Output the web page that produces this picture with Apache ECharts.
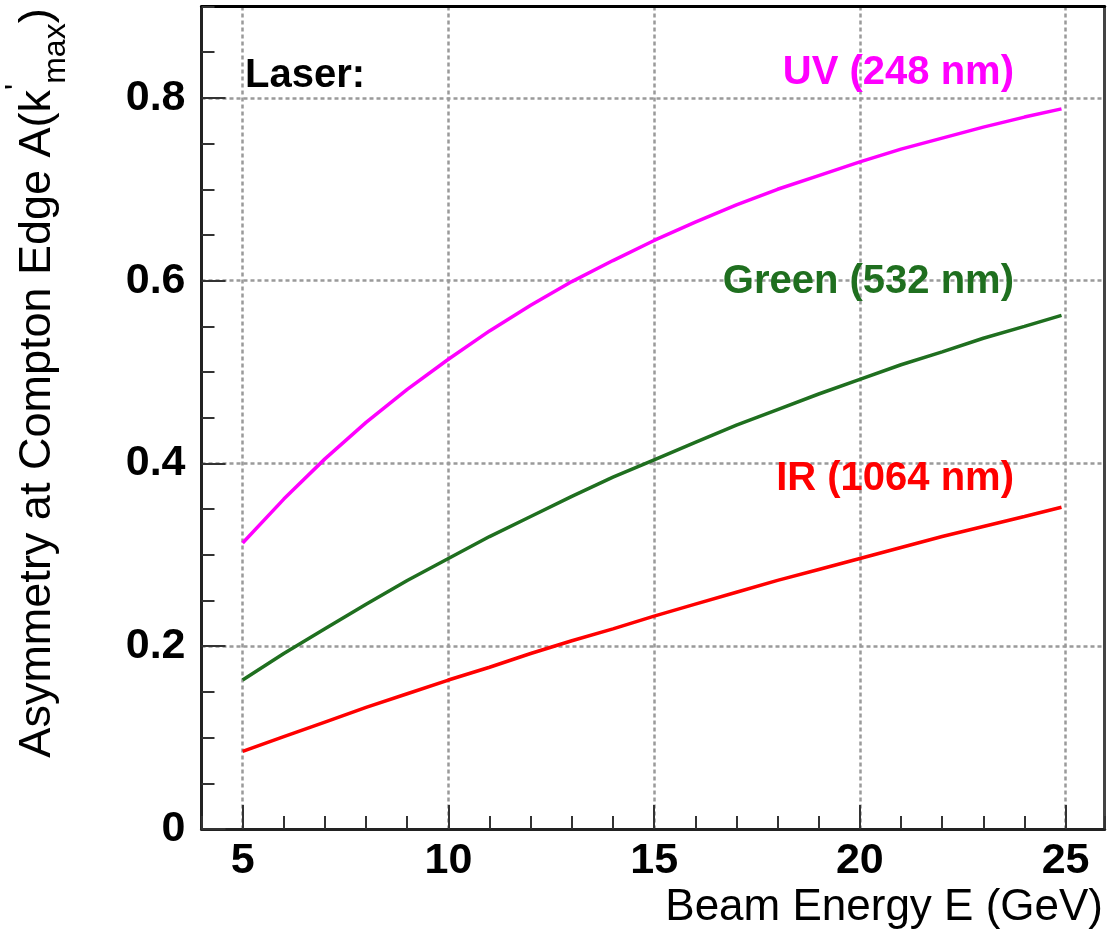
<!DOCTYPE html>
<html>
<head>
<meta charset="utf-8">
<script src="https://cdn.jsdelivr.net/npm/echarts@6/dist/echarts.min.js"></script>
<style>
  html, body { margin: 0; padding: 0; background: #ffffff; }
  #chart { width: 1111px; height: 935px; }
</style>
</head>
<body>
<div id="chart"></div>
<script>
// Beam energy (GeV) at which each curve is sampled
const beamEnergy = [5, 6, 7, 8, 9, 10, 11, 12, 13, 14, 15, 16, 17, 18, 19, 20, 21, 22, 23, 24, 24.9];

// Asymmetry at the Compton edge for each laser wavelength
const asymUV = [0.313, 0.361, 0.405, 0.445, 0.481, 0.514, 0.545, 0.573, 0.599, 0.622, 0.644,
                0.664, 0.683, 0.700, 0.715, 0.730, 0.744, 0.756, 0.768, 0.779, 0.788];
const asymGreen = [0.163, 0.192, 0.219, 0.246, 0.272, 0.296, 0.320, 0.342, 0.364, 0.385, 0.404,
                   0.423, 0.442, 0.459, 0.476, 0.492, 0.508, 0.522, 0.537, 0.550, 0.562];
const asymIR = [0.085, 0.101, 0.117, 0.133, 0.148, 0.163, 0.177, 0.192, 0.206, 0.219, 0.233,
                0.246, 0.259, 0.272, 0.284, 0.296, 0.308, 0.320, 0.331, 0.342, 0.352];

const laserNames = ['UV (248 nm)', 'Green (532 nm)', 'IR (1064 nm)'];
const laserColors = ['#ff00ff', '#1f6f1f', '#ff0000'];

const xRange = [4, 25.95];
const yRange = [0, 0.9];

const FONT = "'Liberation Sans', Arial, Helvetica, sans-serif";

function pairs(xs, ys) {
  return xs.map((x, i) => [x, ys[i]]);
}

const gridLine = { show: true, showMinLine: false, showMaxLine: false,
  lineStyle: { color: '#9a9a9a', width: 2.5, type: [4, 3] } };
const hidden = { show: false };

const chart = echarts.init(document.getElementById('chart'), null, { renderer: 'canvas' });

chart.setOption({
  animation: false,
  backgroundColor: '#ffffff',
  grid: { left: 201.5, right: 6.3, top: 6.5, bottom: 106, containLabel: false, outerBoundsMode: 'none' },
  xAxis: [
    { // major ticks, labels and grid
      type: 'value', min: xRange[0], max: xRange[1], position: 'bottom',
      axisLine: { show: true, onZero: false, lineStyle: { color: '#222', width: 3 } },
      axisTick: { show: true, inside: true, length: 24, lineStyle: { color: '#333', width: 2 } },
      axisLabel: { show: true, margin: 11, color: '#000', fontSize: 43, fontWeight: 'bold',
                   fontFamily: FONT, showMinLabel: false, showMaxLabel: false },
      splitLine: gridLine
    },
    { // minor ticks every 1 GeV
      type: 'value', min: xRange[0], max: xRange[1], interval: 1, position: 'bottom',
      axisLine: hidden, axisLabel: hidden, splitLine: hidden,
      axisTick: { show: true, inside: true, length: 13, lineStyle: { color: '#333', width: 2 } }
    },
    { // top frame edge
      type: 'value', min: xRange[0], max: xRange[1], position: 'top',
      axisLine: { show: true, onZero: false, lineStyle: { color: '#000', width: 3 } },
      axisTick: hidden, axisLabel: hidden, splitLine: hidden
    }
  ],
  yAxis: [
    {
      type: 'value', min: yRange[0], max: yRange[1], interval: 0.2, position: 'left',
      axisLine: { show: true, onZero: false, lineStyle: { color: '#222', width: 3 } },
      axisTick: { show: true, inside: true, length: 24, lineStyle: { color: '#333', width: 2 } },
      axisLabel: { show: true, margin: 16, color: '#000', fontSize: 43, fontWeight: 'bold',
                   fontFamily: FONT, showMaxLabel: false },
      splitLine: gridLine
    },
    { // minor ticks every 0.05
      type: 'value', min: yRange[0], max: yRange[1], interval: 0.05, position: 'left',
      axisLine: hidden, axisLabel: hidden, splitLine: hidden,
      axisTick: { show: true, inside: true, length: 13, lineStyle: { color: '#333', width: 2 } }
    },
    { // right frame edge
      type: 'value', min: yRange[0], max: yRange[1], position: 'right',
      axisLine: { show: true, onZero: false, lineStyle: { color: '#444', width: 3 } },
      axisTick: hidden, axisLabel: hidden, splitLine: hidden
    }
  ],
  series: [asymUV, asymGreen, asymIR].map((vals, i) => ({
    name: laserNames[i],
    type: 'line',
    xAxisIndex: 0,
    yAxisIndex: 0,
    data: pairs(beamEnergy, vals),
    showSymbol: false,
    silent: true,
    lineStyle: { color: laserColors[i], width: 3.5 },
    z: 5
  })),
  graphic: [
    { type: 'text', x: 245, y: 76, z: 10,
      style: { text: 'Laser:', fill: '#000', fontSize: 40, fontWeight: 'bold', fontFamily: FONT,
               align: 'left', verticalAlign: 'middle' } },
    { type: 'text', x: 1014, y: 73, z: 10,
      style: { text: laserNames[0], fill: laserColors[0], fontSize: 40, fontWeight: 'bold', fontFamily: FONT,
               align: 'right', verticalAlign: 'middle' } },
    { type: 'text', x: 1014, y: 282, z: 10,
      style: { text: laserNames[1], fill: laserColors[1], fontSize: 40, fontWeight: 'bold', fontFamily: FONT,
               align: 'right', verticalAlign: 'middle' } },
    { type: 'text', x: 1014, y: 479, z: 10,
      style: { text: laserNames[2], fill: laserColors[2], fontSize: 40, fontWeight: 'bold', fontFamily: FONT,
               align: 'right', verticalAlign: 'middle' } },
    { // x axis title
      type: 'text', x: 1103, y: 908, z: 10,
      style: { text: 'Beam Energy E (GeV)', fill: '#000', fontSize: 44, fontFamily: FONT,
               align: 'right', verticalAlign: 'middle' } },
    { // y axis title, reading bottom to top
      type: 'text', x: 37.5, y: 383, rotation: Math.PI / 2, z: 10,
      style: {
        text: "Asymmetry at Compton Edge A(k{sup|'}{sub|max})",
        fill: '#000', fontSize: 45, fontFamily: FONT, lineHeight: 70,
        align: 'center', verticalAlign: 'middle',
        rich: {
          sup: { fontSize: 32, lineHeight: 58, fontFamily: FONT, fill: '#000', verticalAlign: 'top' },
          sub: { fontSize: 32, lineHeight: 32, fontFamily: FONT, fill: '#000', verticalAlign: 'bottom' }
        }
      } }
  ]
});
</script>
</body>
</html>
